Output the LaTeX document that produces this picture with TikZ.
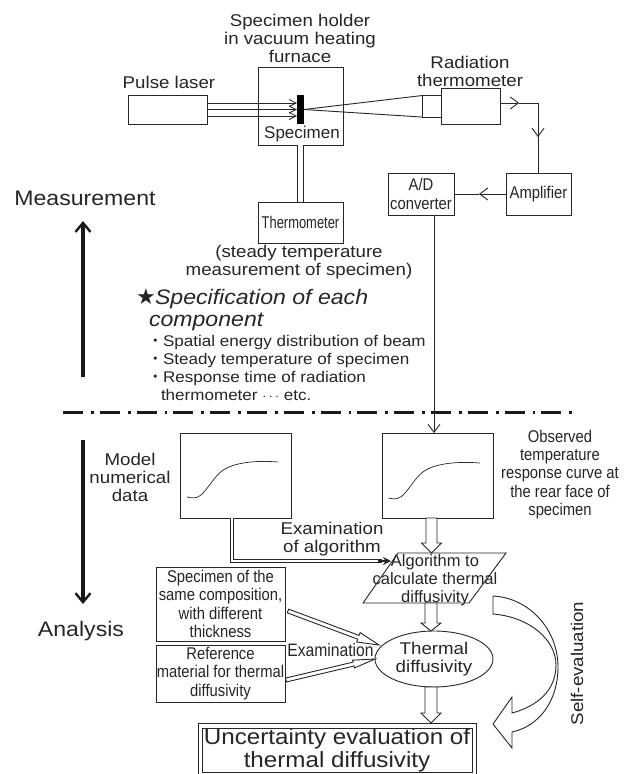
\documentclass[tikz,border=0pt]{standalone}
\usepackage{fontspec}
\usetikzlibrary{arrows.meta,calc,shapes.geometric}
\setmainfont{Liberation Sans}
\newfontfamily\widef[FakeStretch=1.1]{Liberation Sans}
\newfontfamily\midf[FakeStretch=0.87]{Liberation Sans}
\newfontfamily\narrowf[FakeStretch=0.76]{Liberation Sans}
\newfontfamily\symf{DejaVu Sans}
\newfontfamily\cjkf{Noto Sans CJK JP}
\newcommand{\fs}[2]{\fontsize{#1}{#2}\selectfont}
\definecolor{ink}{HTML}{262626}
\tikzset{
  every node/.style={inner sep=0pt,outer sep=0pt,align=center,text=ink},
  ln/.style={draw=ink,line width=0.9pt},
  boxn/.style={ln,fill=white,rectangle,minimum width=#1},
  bar/.style={line width=3.2pt,draw=black!90},
  lab/.style={font=\widef\fs{17}{18}},
  midl/.style={font=\midf\fs{17}{18.2}},
  big/.style={font=\widef\fs{21}{23}},
  sbarb/.style={-{Straight Barb[length=8pt,width=12pt,line width=0.9pt]}},
  dbl/.style={draw=ink,line width=1pt,double=white,double distance=1.6pt}
}
% hollow arrow from #1 to #2: half shaft #3, half head #4, head length #5
\newcommand{\hollow}[5]{%
  \coordinate (HH) at ($(#2)!#5pt!(#1)$);
  \draw[ln,fill=white,line join=miter]
    ($(#1)!#3pt!90:(#2)$) -- ($(HH)!#3pt!90:(#2)$) -- ($(HH)!#4pt!90:(#2)$) -- (#2)
    -- ($(HH)!#4pt!-90:(#2)$) -- ($(HH)!#3pt!-90:(#2)$) -- ($(#1)!#3pt!-90:(#2)$) -- cycle;}
\begin{document}
\begin{tikzpicture}[x=1pt,y=-1pt]
\useasboundingbox[fill=white] (0,0) rectangle (630,774);

% --- measurement part ---
\node[boxn=79pt,minimum height=29pt] (laser) at (167.5,109.5) {};
\node[boxn=85pt,minimum height=78pt] (furn) at (300.5,106) {};
\node[boxn=59pt,minimum height=36pt] (radb) at (470.5,106) {};
\node[boxn=19pt,minimum height=21.5pt] (lens) at (431.5,106.3) {};
\node[boxn=65pt,minimum height=42pt,midl] (amp) at (538.5,194) {Amplifier};
\node[boxn=66pt,minimum height=42pt,midl] (adc) at (421,194) {A/D\\converter};
\node[boxn=85pt,minimum height=41pt,font=\narrowf\fs{17}{18}] (thermo) at (300.5,222.5) {Thermometer};
\node[fill=black,minimum width=7pt,minimum height=29pt] (spec) at (300.5,109.5) {};

\node[lab] (tholder) at (300,38) {Specimen holder\\in vacuum heating\\furnace};
\node[lab] (tlaser) at (169,82) {Pulse laser};
\node[lab] (trad) at (470,71) {Radiation\\thermometer};
\node[font=\fs{17}{18}] (tspec) at (302,134) {Specimen};
\node[lab] (tsteady) at (299,262) {(steady temperature\\measurement of specimen)};
\node[big] (tmeas) at (85,198) {Measurement};
\node[big] (tana) at (81,631) {Analysis};

% laser beams
\foreach \yy/\nm in {103/a,109.5/b,116/c}{
  \coordinate (bs\nm) at (laser.east |- 0,\yy);
  \coordinate (be\nm) at (spec.west |- 0,\yy);
  \draw[ln,-{Straight Barb[length=7pt,width=7pt,line width=0.8pt]}] (bs\nm) -- (be\nm);
}
% cone
\draw[ln] (spec.east |- 0,109.5) -- (lens.north west);
\draw[ln] (spec.east |- 0,109.5) -- (lens.south west);
% holder to thermometer
\draw[dbl,line width=0.9pt,double distance=5pt] (furn.south -| spec) -- (thermo.north -| spec);
% signal path
\coordinate (r1) at (519,103);
\coordinate (r2) at (538,103);
\coordinate (r3) at (538,137);
\coordinate (a1) at (479,194);
\draw[ln,sbarb] (radb.east |- r1) -- (r1);
\draw[ln] (r1) -- (r2) -- (amp.north -| r2);
\draw[ln,sbarb] (r2) -- (r3);
\draw[ln,sbarb] (amp.west) -- (a1);
\draw[ln] (a1) -- (adc.east);

% specification text
\node[anchor=base west,font=\symf\fs{22}{22}] (star) at (136,304) {★};
\node[anchor=base west,font=\widef\itshape\fs{21}{22}] (spectitle) at (155,304) {Specification of each};
\node[anchor=base west,font=\widef\itshape\fs{21}{22}] (spectitle2) at (149,326) {component};
\node[anchor=base west,font=\cjkf\fs{15.5}{18}] (b1) at (147.5,346) {・};
\node[anchor=base west,font=\widef\fs{15.5}{18}] (t1) at (163,346) {Spatial energy distribution of beam};
\node[anchor=base west,font=\cjkf\fs{15.5}{18}] (b2) at (147.5,364) {・};
\node[anchor=base west,font=\widef\fs{15.5}{18}] (t2) at (163,364) {Steady temperature of specimen};
\node[anchor=base west,font=\cjkf\fs{15.5}{18}] (b3) at (147.5,382) {・};
\node[anchor=base west,font=\widef\fs{15.5}{18}] (t3) at (163,382) {Response time of radiation};
\node[anchor=base west,font=\widef\fs{15.5}{18}] (t4) at (161,400) {thermometer $\cdots$ etc.};

% big arrows
\coordinate (upb) at (83,377);
\coordinate (upt) at (83,221);
\coordinate (dnt) at (83,440);
\coordinate (dnb) at (83,604);
\draw[bar,-{Straight Barb[length=9pt,width=15pt,line width=2.4pt]}] (upb) -- (upt);
\draw[bar,-{Straight Barb[length=9pt,width=15pt,line width=2.4pt]}] (dnt) -- (dnb);

% separator
\coordinate (sepl) at (63,412);
\coordinate (sepr) at (578,412);
\draw[line width=3pt,draw=black!90,dash pattern=on 20pt off 8pt on 2.8pt off 6pt] (sepl) -- (sepr);

% --- analysis part ---
\node[boxn=111pt,minimum height=85pt] (cl) at (235.5,475.5) {};
\node[boxn=111pt,minimum height=85pt] (cr) at (437.5,475.5) {};
\draw[ln,line width=0.7pt] (187,497) .. controls (194,499) and (199,498) .. (204,492)
  .. controls (211,484) and (217,473) .. (225,469) .. controls (235,463) and (255,460) .. (278,462);
\draw[ln,line width=0.7pt] (388.5,498) .. controls (395,500) and (400,499) .. (405,493)
  .. controls (412,485) and (418,474) .. (426,470) .. controls (436,464) and (456,461) .. (480,463);

\draw[ln,sbarb] (adc.south -| 434,0) -- (cr.north -| 434,0);

\node[lab] (tmodel) at (130,477) {Model\\numerical\\data};
\node[midl] (tobs) at (560,474.5) {Observed\\temperature\\response curve at\\the rear face of\\specimen};

% algorithm parallelogram
\coordinate (pa) at (398,553);
\coordinate (pb) at (506,553);
\coordinate (pc) at (469,603);
\coordinate (pd) at (363,603);
\draw[ln] (pa) -- (pb) -- (pc) -- (pd) -- cycle;
\node[font=\fs{16.5}{18}] (algo) at (435,580) {Algorithm to\\calculate thermal\\diffusivity};

% double connector to algorithm
\coordinate (m1) at (232,561);
\coordinate (m2) at (382,561);
\coordinate (m3) at (391,561);
\draw[dbl] (cl.south -| m1) -- (m1) -- (m2);
\draw[draw=ink,line width=2.6pt,-{Stealth[length=8pt,width=8pt]}] (378,561) -- (m3);
\node[lab] (texalg) at (332,539) {Examination\\of algorithm};

% side boxes
\node[boxn=129pt,minimum height=74pt,midl] (sb1) at (220.5,604) {Specimen of the\\same composition,\\with different\\thickness};
\node[boxn=129pt,minimum height=57pt,midl] (sb2) at (220.5,673.5) {Reference\\material for thermal\\diffusivity};

% ellipse
\node[draw=ink,line width=0.9pt,ellipse,fill=white,minimum width=118pt,minimum height=56pt,lab] (td) at (434,659) {Thermal\\diffusivity};

\node[midl,font=\midf\fs{18}{18}] (texam) at (330.5,650) {Examination};

% final box
\node[ln,rectangle,minimum width=278pt,minimum height=51pt] (ub) at (337,748.5) {};
\node[ln,rectangle,minimum width=270pt,minimum height=44pt,font=\widef\fs{22}{23}] (ui) at (337,750) {Uncertainty evaluation of\\thermal diffusivity};

% hollow arrows
\coordinate (h1a) at (431.5,518);
\coordinate (h1b) at (431.5,553);
\hollow{h1a}{h1b}{5.5}{10}{10}
\coordinate (h2a) at (431,603);
\coordinate (h2b) at (431,631);
\hollow{h2a}{h2b}{6}{10}{8}
\coordinate (h3a) at (431,687);
\coordinate (h3b) at (431,723);
\hollow{h3a}{h3b}{6}{10}{10}
\coordinate (h4a) at (288,611);
\coordinate (h4b) at (379,645);
\hollow{h4a}{h4b}{2}{5}{22}
\coordinate (h5a) at (286,680);
\coordinate (h5b) at (375,659);
\hollow{h5a}{h5b}{2}{4}{22}

% self-evaluation arrow
\coordinate (s1) at (493,596);
\coordinate (s2) at (493,614);
\draw[ln,fill=white,line join=miter] (s1) .. controls (530,598) and (558,630) .. (558,667)
  .. controls (558,700) and (540,726) .. (512,732)
  -- (512,748) -- (493,724) -- (512,697) -- (512,713)
  .. controls (538,706) and (556,690) .. (556,665)
  .. controls (556,640) and (530,617) .. (s2) -- cycle;
\node[lab,rotate=90] (tself) at (577,663.5) {Self-evaluation};
\end{tikzpicture}
\end{document}
